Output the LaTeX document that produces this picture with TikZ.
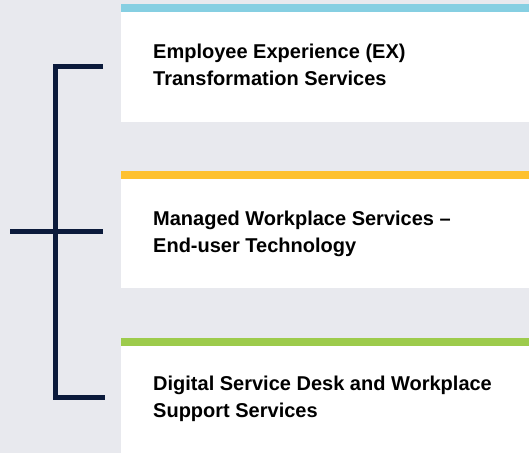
\documentclass[tikz,border=0pt]{standalone}
\usepackage{fontspec}
\setmainfont{Liberation Sans}
\definecolor{bgGray}{HTML}{E8E9EE}
\definecolor{navy}{HTML}{0B1A3B}
\definecolor{exBlue}{HTML}{86CFE2}
\definecolor{mwOrange}{HTML}{FEC12F}
\definecolor{sdGreen}{HTML}{9DCB4C}
\begin{document}
\begin{tikzpicture}[x=1pt, y=-1pt]
\fill[bgGray] (0, 0) rectangle (529, 453);
\useasboundingbox (0, 0) rectangle (529, 453);
% service boxes
\begin{scope}[every node/.style = {fill=white, inner sep=0, outer sep=0, anchor=north west, minimum width=408pt}]
\node[minimum height=118pt] (EX) at (121, 4) {};
\node[minimum height=117pt] (MW) at (121, 171) {};
\node[minimum height=115pt] (SD) at (121, 338) {};
\end{scope}
\fill[exBlue] (EX.north west) rectangle ++(408, 8);
\fill[mwOrange] (MW.north west) rectangle ++(408, 8);
\fill[sdGreen] (SD.north west) rectangle ++(408, 8);
% labels
\begin{scope}[every node/.style = {anchor=base west, inner sep=0, align=left, font=\fontsize{20}{27}\selectfont\bfseries}]
\node (EXt) at (153, 85) {Employee Experience (EX)\\Transformation Services};
\node (MWt) at (153, 252) {Managed Workplace Services –\\End-user Technology};
\node (SDt) at (153, 417) {Digital Service Desk and Workplace\\Support Services};
\end{scope}
% bracket
\coordinate (top) at (103, 66.5);
\coordinate (mid) at (103, 231.5);
\coordinate (bot) at (105, 397.5);
\coordinate (stem) at (10, 231.5);
\begin{scope}[every path/.style = {draw=navy, line width=5pt}]
\path (top) -| (55.5, 397.5) -- (bot);
\path (stem) -- (mid);
\end{scope}
\end{tikzpicture}
\end{document}
